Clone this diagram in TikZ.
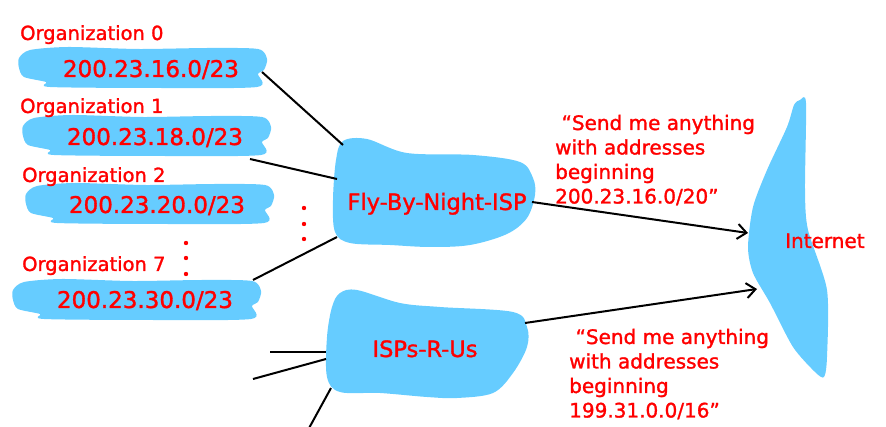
\documentclass[tikz,border=0pt]{standalone}
\usepackage{fontspec}
\setmainfont{DejaVu Sans}
\newfontfamily\cfont{DejaVu Sans}[FakeBold=1.4]
\usetikzlibrary{arrows.meta}
\definecolor{blobblue}{HTML}{66CCFF}
\definecolor{txtred}{HTML}{FF0000}
\newcommand{\stackl}[1]{\vtop{\baselineskip=24.5pt #1}}
\tikzset{
  blob/.style={fill=blobblue, draw=none},
  addr/.style={text=txtred, font=\cfont\fontsize{23}{26}\selectfont, inner sep=0pt, anchor=base},
  orglab/.style={text=txtred, font=\cfont\fontsize{19.5}{22}\selectfont, inner sep=0pt, anchor=base west},
  isplab/.style={text=txtred, font=\cfont\fontsize{22.5}{26}\selectfont, inner sep=0pt, anchor=base},
  note/.style={text=txtred, font=\cfont\fontsize{20}{24.5}\selectfont, inner sep=0pt, anchor=base west},
  link/.style={draw=black, line width=2pt},
  arr/.style={link, -{Straight Barb[length=9pt,width=15pt,line width=2pt]}},
  dotr/.style={fill=txtred, draw=none}
}
\begin{document}
\begin{tikzpicture}[x=1pt,y=-1pt]
\useasboundingbox (0,0) rectangle (886,427);
% organization blobs
\foreach \px/\py in {18/46, 22/114, 25/182, 12/278}{
  \fill[blob, shift={(\px,\py)}] plot[smooth cycle, tension=0.45] coordinates
    {(1,12) (12,4) (50,1) (120,3) (190,2) (240,3) (249,13) (246,24) (240,28) (239,41) (140,42) (32,41) (28,36) (6,31) (1,22)};
}
% ISP blobs
\fill[blob] plot[smooth cycle, tension=0.55] coordinates
  {(343,141) (367,139) (407,153) (473,155) (520,162) (533,178) (535,195) (527,218) (507,234) (470,245) (430,247) (390,245) (350,243) (335,232) (333,200) (336,160)};
\fill[blob] plot[smooth cycle, tension=0.55] coordinates
  {(340,293) (357,290) (400,303) (440,307) (513,312) (527,327) (527,347) (513,373) (493,393) (457,398) (427,397) (380,393) (340,392) (327,377) (327,337) (332,307)};
% Internet blob
\fill[blob] plot[smooth cycle, tension=0.45] coordinates
  {(800,100) (794,105) (787,127) (767,170) (753,207) (748,247) (753,273) (770,303) (793,347) (815,372) (824,377) (827,357) (827,290) (808,230) (805,190) (806,103)};

% labels
\node[orglab] (l0) at (20,40) {Organization 0};
\node[orglab] (l1) at (20,113) {Organization 1};
\node[orglab] (l2) at (22,182) {Organization 2};
\node[orglab] (l7) at (22,271) {Organization 7};
\node[addr] (a0) at (151,77) {200.23.16.0/23};
\node[addr] (a1) at (155,145) {200.23.18.0/23};
\node[addr] (a2) at (157,213) {200.23.20.0/23};
\node[addr] (a7) at (145,308) {200.23.30.0/23};
\node[isplab] (fbn) at (437,210) {Fly-By-Night-ISP};
\node[isplab] (isp) at (425,357) {ISPs-R-Us};
\node[note] (inet) at (785,248) {Internet};
\node[note] (n1) at (555,130) {\stackl{\hbox{ “Send me anything}\hbox{with addresses}\hbox{beginning}\hbox{200.23.16.0/20”}}};
\node[note] (n2) at (569,344) {\stackl{\hbox{ “Send me anything}\hbox{with addresses}\hbox{beginning}\hbox{199.31.0.0/16”}}};

% dots
\foreach \dy in {243,258,274}{ \fill[dotr] (186,\dy) circle (2.2pt); }
\foreach \dy in {208,224,239}{ \fill[dotr] (304,\dy) circle (2.2pt); }

% connector endpoints
\coordinate (o0e) at (262,72);  \coordinate (f0) at (343,145);
\coordinate (o1e) at (250,159); \coordinate (f1) at (337,179);
\coordinate (o7e) at (253,280); \coordinate (f7) at (337,237);
\coordinate (fr) at (532,202);  \coordinate (in1) at (748,233);
\coordinate (ir) at (525,323);  \coordinate (in2) at (757,289);
\coordinate (x1) at (270,352);  \coordinate (i1) at (326,352);
\coordinate (x2) at (253,379);  \coordinate (i2) at (326,359);
\coordinate (x3) at (308,430);  \coordinate (i3) at (331,388);

\draw[link] (o0e) -- (f0);
\draw[link] (o1e) -- (f1);
\draw[link] (o7e) -- (f7);
\draw[arr] (fr) -- (in1);
\draw[arr] (ir) -- (in2);
\draw[link] (x1) -- (i1);
\draw[link] (x2) -- (i2);
\draw[link] (x3) -- (i3);
\end{tikzpicture}
\end{document}
